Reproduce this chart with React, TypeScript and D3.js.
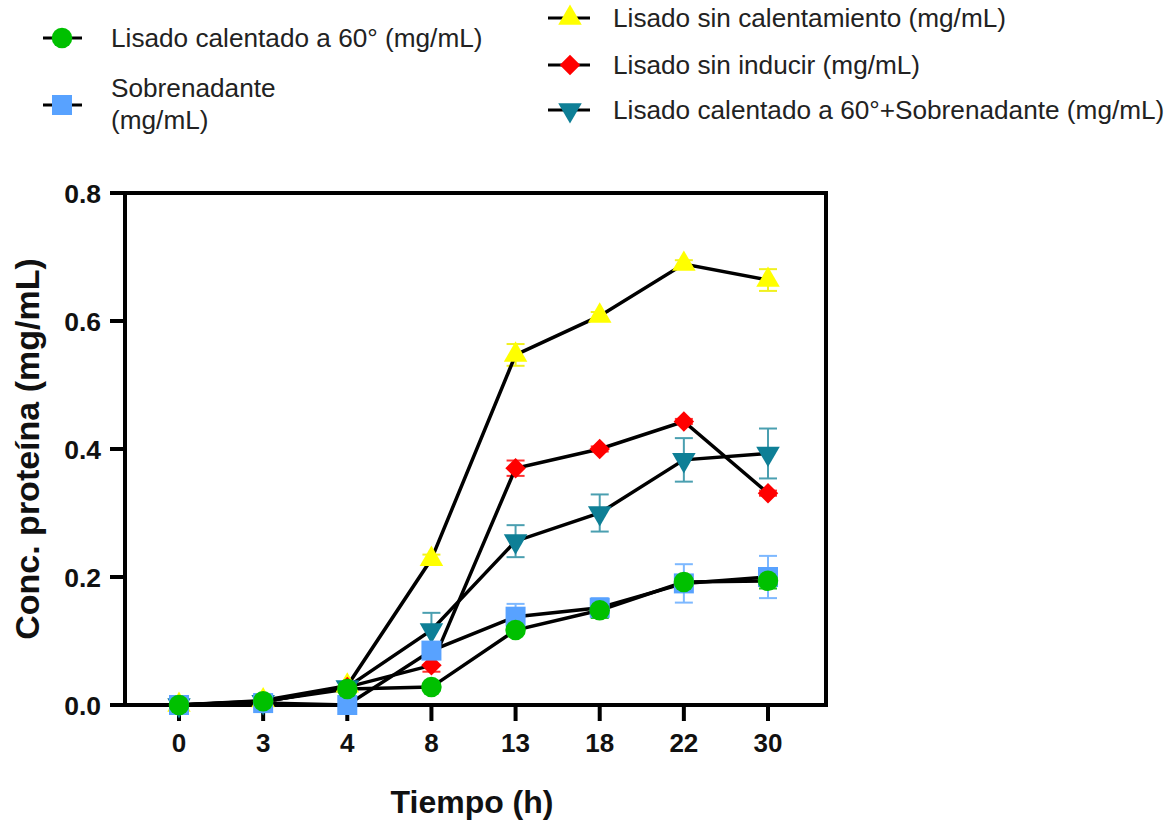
import * as d3 from "d3";

const tiempos = ["0", "3", "4", "8", "13", "18", "22", "30"];

// valores medios (mg/mL) y desviaciones
const calentado60 = [0, 0.006, 0.025, 0.028, 0.117, 0.148, 0.192, 0.194];
const calentado60Err = [0, 0, 0, 0, 0.005, 0.012, 0.01, 0.012];
const sobrenadante = [0, 0.003, 0, 0.085, 0.138, 0.152, 0.19, 0.2];
const sobrenadanteErr = [0, 0, 0, 0.012, 0.02, 0.015, 0.03, 0.033];
const sinCalentamiento = [0, 0.007, 0.03, 0.228, 0.547, 0.608, 0.689, 0.664];
const sinCalentamientoErr = [0, 0, 0, 0.007, 0.017, 0.006, 0.006, 0.017];
const sinInducir = [0, 0.005, 0.028, 0.062, 0.37, 0.4, 0.443, 0.331];
const sinInducirErr = [0, 0, 0, 0.01, 0.012, 0.004, 0.004, 0.004];
const calentadoSobren = [0, 0.005, 0.028, 0.117, 0.256, 0.3, 0.383, 0.393];
const calentadoSobrenErr = [0, 0, 0, 0.027, 0.025, 0.029, 0.034, 0.039];

const yTicks = [0, 0.2, 0.4, 0.6, 0.8];

type Serie = {
  name: string;
  values: number[];
  err: number[];
  fill: string;
  errColor: string;
  shape: string;
};

const series: Serie[] = [
  { name: "Lisado sin calentamiento (mg/mL)", values: sinCalentamiento, err: sinCalentamientoErr, fill: "#ffff00", errColor: "#f0f020", shape: "tri" },
  { name: "Lisado sin inducir (mg/mL)", values: sinInducir, err: sinInducirErr, fill: "#ff0000", errColor: "#ff3030", shape: "diamond" },
  { name: "Lisado calentado a 60°+Sobrenadante (mg/mL)", values: calentadoSobren, err: calentadoSobrenErr, fill: "#0e7f96", errColor: "#4a9fb0", shape: "triDown" },
  { name: "Sobrenadante (mg/mL)", values: sobrenadante, err: sobrenadanteErr, fill: "#58a2ff", errColor: "#7db8ff", shape: "square" },
  { name: "Lisado calentado a 60° (mg/mL)", values: calentado60, err: calentado60Err, fill: "#00c000", errColor: "#20c020", shape: "circle" },
];

const margin = { left: 125, top: 193, right: 826, bottom: 705 };

const x = d3.scalePoint<string>().domain(tiempos).range([179, 768]);
const y = d3.scaleLinear().domain([0, 0.8]).range([margin.bottom, margin.top]);

const symbolPath = (shape: string) => {
  if (shape === "circle") return d3.symbol(d3.symbolCircle, 330)()!;
  if (shape === "square") return d3.symbol(d3.symbolSquare, 400)()!;
  if (shape === "diamond") return d3.symbol(d3.symbolSquare, 210)()!;
  return d3.symbol(d3.symbolTriangle, 240)()!;
};

const symbolRot = (shape: string) =>
  shape === "diamond" ? 45 : shape === "triDown" ? 180 : 0;

const Marker = ({ s, cx, cy }: { s: Serie; cx: number; cy: number }) => (
  <path
    d={symbolPath(s.shape)}
    fill={s.fill}
    transform={`translate(${cx},${cy}) rotate(${symbolRot(s.shape)})`}
  />
);

const line = d3
  .line<number>()
  .x((_, i) => x(tiempos[i])!)
  .y((d) => y(d));

const legendLeft = [
  { s: series[4], cy: 38, lines: ["Lisado calentado a 60° (mg/mL)"] },
  { s: series[3], cy: 105, lines: ["Sobrenadante", "(mg/mL)"] },
];
const legendRight = [
  { s: series[0], cy: 18 },
  { s: series[1], cy: 65 },
  { s: series[2], cy: 110 },
];

export default function App() {
  const font = "'Liberation Sans', Arial, sans-serif";
  const fsLeg = 26.2;
  return (
    <svg
      width={1175}
      height={823}
      style={{ position: "absolute", left: 0, top: 0, background: "#fff" }}
      fontFamily={font}
    >
      {/* leyenda */}
      {legendLeft.map((l, i) => (
        <g key={"ll" + i}>
          <line x1={43} x2={82} y1={l.cy} y2={l.cy} stroke="#000" strokeWidth={3} />
          <Marker s={l.s} cx={62} cy={l.cy} />
          {l.lines.length === 1 ? (
            <text x={111} y={l.cy} dy="0.35em" fontSize={fsLeg} fill="#222">
              {l.lines[0]}
            </text>
          ) : (
            l.lines.map((t, j) => (
              <text key={j} x={111} y={l.cy - 17 + j * 32} dy="0.35em" fontSize={fsLeg} fill="#222">
                {t}
              </text>
            ))
          )}
        </g>
      ))}
      {legendRight.map((l, i) => (
        <g key={"lr" + i}>
          <line x1={548} x2={590} y1={l.cy} y2={l.cy} stroke="#000" strokeWidth={3} />
          <Marker s={l.s} cx={570} cy={l.cy} />
          <text x={613} y={l.cy} dy="0.35em" fontSize={fsLeg} fill="#222">
            {l.s.name}
          </text>
        </g>
      ))}

      {/* marco */}
      <rect
        x={margin.left}
        y={margin.top}
        width={margin.right - margin.left}
        height={margin.bottom - margin.top}
        fill="none"
        stroke="#000"
        strokeWidth={4}
      />

      {/* eje y */}
      {yTicks.map((t) => (
        <g key={"y" + t}>
          <line x1={margin.left - 15} x2={margin.left} y1={y(t)} y2={y(t)} stroke="#000" strokeWidth={4} />
          <text x={101} y={y(t)} dy="0.36em" textAnchor="end" fontSize={26.5} fontWeight="bold" fill="#111">
            {t.toFixed(1)}
          </text>
        </g>
      ))}
      <text
        transform={`translate(39,${(margin.top + margin.bottom) / 2}) rotate(-90)`}
        textAnchor="middle"
        fontSize={34}
        fontWeight="bold"
        fill="#111"
      >
        Conc. proteína (mg/mL)
      </text>

      {/* eje x */}
      {tiempos.map((t) => (
        <g key={"x" + t}>
          <line x1={x(t)} x2={x(t)} y1={margin.bottom} y2={margin.bottom + 16} stroke="#000" strokeWidth={4} />
          <text x={x(t)} y={752} textAnchor="middle" fontSize={26} fontWeight="bold" fill="#111">
            {t}
          </text>
        </g>
      ))}
      <text x={472} y={813} textAnchor="middle" fontSize={32} fontWeight="bold" fill="#111">
        Tiempo (h)
      </text>

      {/* barras de error */}
      {series.map((s) =>
        s.values.map((v, i) =>
          s.err[i] > 0 ? (
            <g key={s.name + "e" + i} stroke={s.errColor} strokeWidth={2} fill="none">
              <line x1={x(tiempos[i])} x2={x(tiempos[i])} y1={y(v - s.err[i])} y2={y(v + s.err[i])} />
              <line x1={x(tiempos[i])! - 9} x2={x(tiempos[i])! + 9} y1={y(v - s.err[i])} y2={y(v - s.err[i])} />
              <line x1={x(tiempos[i])! - 9} x2={x(tiempos[i])! + 9} y1={y(v + s.err[i])} y2={y(v + s.err[i])} />
            </g>
          ) : null
        )
      )}

      {/* líneas */}
      {series.map((s) => (
        <path key={s.name + "l"} d={line(s.values)!} fill="none" stroke="#000" strokeWidth={3.5} />
      ))}

      {/* marcadores */}
      {series.map((s) =>
        s.values.map((v, i) => <Marker key={s.name + "m" + i} s={s} cx={x(tiempos[i])!} cy={y(v)} />)
      )}
    </svg>
  );
}
